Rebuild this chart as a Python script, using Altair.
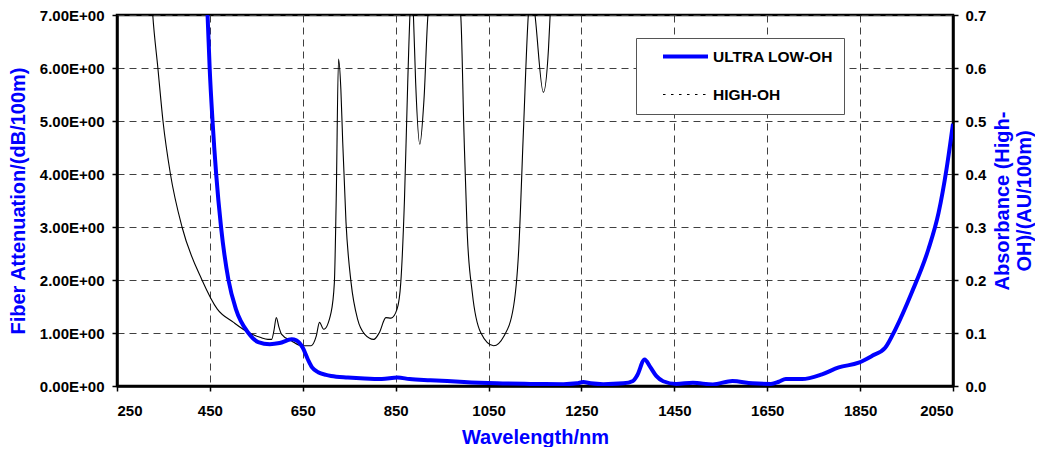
import altair as alt
import pandas as pd

# ULTRA LOW-OH fiber attenuation (dB/100m), left axis
ulo_nm = [442, 445, 449.5, 455.7, 463.5, 474, 490, 506, 533, 554, 579, 600, 626, 636, 650, 661, 670, 683,
          700, 711, 747, 783, 820, 854, 880, 925, 961, 997, 1068, 1140, 1211, 1240, 1254, 1270, 1297, 1340,
          1361, 1370, 1386, 1398, 1411, 1426, 1454, 1490, 1533, 1575, 1618, 1658, 1675, 1690, 1725, 1768,
          1804, 1847, 1876, 1904, 1926, 1961, 1997, 2019, 2036, 2050]
ulo_val = [7.5, 7.0, 6.0, 5.0, 4.0, 3.0, 2.0, 1.45, 1.0, 0.83, 0.79, 0.81, 0.88, 0.86, 0.72, 0.5, 0.35, 0.26,
           0.21, 0.19, 0.16, 0.14, 0.13, 0.16, 0.13, 0.11, 0.095, 0.075, 0.05, 0.04, 0.035, 0.05, 0.075, 0.05, 0.035, 0.05,
           0.095, 0.2, 0.5, 0.36, 0.19, 0.09, 0.04, 0.06, 0.03, 0.095, 0.05, 0.04, 0.08, 0.13, 0.13, 0.22,
           0.35, 0.44, 0.57, 0.72, 1.07, 1.76, 2.58, 3.27, 4.09, 4.95]

# HIGH-OH absorbance (AU/100m), right axis
hoh_nm = [324, 327, 338, 349, 365, 390, 433, 466, 501, 533, 558, 575, 583, 588, 593, 599, 604, 626, 647, 668,
          679, 686, 695, 711, 718, 722, 727, 732, 736, 743, 754, 768, 783, 803, 815, 829, 840, 853, 861, 869,
          876, 881, 885, 888, 893, 902, 911, 920, 955, 990, 997, 1004, 1015, 1033, 1061, 1083, 1104, 1115,
          1125, 1136, 1143, 1150, 1168, 1179, 1183, 1186]
hoh_val = [0.74, 0.70, 0.60, 0.50, 0.40, 0.30, 0.20, 0.145, 0.12, 0.101, 0.092, 0.088, 0.088, 0.105, 0.129,
           0.11, 0.098, 0.085, 0.076, 0.076, 0.094, 0.12, 0.107, 0.139, 0.195, 0.353, 0.617, 0.56, 0.46, 0.31,
           0.195, 0.126, 0.098, 0.088, 0.101, 0.129, 0.128, 0.145, 0.195, 0.353, 0.573, 0.705, 0.75, 0.705,
           0.573, 0.456, 0.541, 0.705, 0.85, 0.70, 0.479, 0.29, 0.176, 0.101, 0.076, 0.094, 0.151, 0.258,
           0.479, 0.705, 0.75, 0.70, 0.554, 0.636, 0.708, 0.76]

x_ticks = [250, 450, 650, 850, 1050, 1250, 1450, 1650, 1850, 2050]
left_ticks = [0, 1, 2, 3, 4, 5, 6, 7]
right_ticks = [0, 0.1, 0.2, 0.3, 0.4, 0.5, 0.6, 0.7]
series_names = ["ULTRA LOW-OH", "HIGH-OH"]

df_ulo = pd.DataFrame({"nm": ulo_nm, "val": ulo_val, "series": series_names[0]})
df_hoh = pd.DataFrame({"nm": hoh_nm, "val": hoh_val, "series": series_names[1]})
# legend-only rows, placed outside the x domain so they are clipped away
df_leg = pd.DataFrame({"nm": [100, 101, 100, 101], "val": [0, 0, 0, 0],
                       "series": [series_names[0], series_names[0], series_names[1], series_names[1]]})

FONT = "Liberation Sans"
BLUE = "#0000ff"
GRID = "#404040"

x_enc = alt.X("nm:Q", scale=alt.Scale(domain=[250, 2050], nice=False),
              axis=alt.Axis(values=x_ticks, format="d", title="Wavelength/nm", titleColor=BLUE,
                            titleFontSize=20, titlePadding=9, grid=True, gridDash=[7, 5],
                            gridColor=GRID, labelPadding=12))

legend = alt.Legend(title=None, orient="none", legendX=519, legendY=23,
                    symbolType="stroke", symbolSize=2025, symbolOffset=14, labelFontSize=15.5,
                    labelFont=FONT, labelFontWeight="bold", labelColor="black",
                    clipHeight=15, rowPadding=22, padding=11, labelOffset=3,
                    fillColor="white", strokeColor="#555555")

color_enc = alt.Color("series:N", scale=alt.Scale(domain=series_names, range=[BLUE, "black"]), legend=legend)
width_enc = alt.StrokeWidth("series:N", scale=alt.Scale(domain=series_names, range=[4, 1.1]), legend=legend)

hoh = alt.Chart(df_hoh).mark_line(clip=True, interpolate="monotone").encode(
    x=x_enc,
    y=alt.Y("val:Q", scale=alt.Scale(domain=[0, 0.7], nice=False),
            axis=alt.Axis(orient="right", values=right_ticks, format=".1f", grid=False,
                          title=["Absorbance (High-", "OH)/(AU/100m)"], titleColor=BLUE,
                          titleFontSize=20, titleLineHeight=22, titleAngle=270, titlePadding=5,
                          labelPadding=7)),
    color=color_enc,
    strokeWidth=width_enc,
)

ulo = alt.Chart(df_ulo).mark_line(clip=True, interpolate="monotone").encode(
    x=x_enc,
    y=alt.Y("val:Q", scale=alt.Scale(domain=[0, 7], nice=False),
            axis=alt.Axis(orient="left", values=left_ticks,
                          labelExpr="format(datum.value, '.2f') + 'E+00'",
                          grid=True, gridDash=[7, 5], gridColor=GRID,
                          title="Fiber Attenuation/(dB/100m)", titleColor=BLUE, titleFontSize=20,
                          titlePadding=11, labelPadding=8)),
    color=color_enc,
    strokeWidth=width_enc,
)

leg = alt.Chart(df_leg).mark_line(clip=True).encode(
    x=x_enc,
    y=alt.Y("val:Q", axis=None),
    color=color_enc,
    strokeWidth=width_enc,
    strokeDash=alt.StrokeDash("series:N", scale=alt.Scale(domain=series_names, range=[[1, 0], [2.5, 5.5]]),
                              legend=legend),
)

chart = alt.layer(hoh, ulo, leg).resolve_scale(y="independent").properties(
    width=836, height=371, padding={"left": 0, "top": 0, "right": 0, "bottom": 0}
).configure_view(stroke="black", strokeWidth=2.5).configure_axis(
    labelFont=FONT, titleFont=FONT, labelFontSize=15, labelFontWeight="bold", labelColor="black",
    titleFontWeight="bold", domainColor="black", domainWidth=2.5, tickColor="black", tickSize=5,
    tickWidth=1.5
)

chart.save("out.html", embed_options={"renderer": "svg", "actions": False})
